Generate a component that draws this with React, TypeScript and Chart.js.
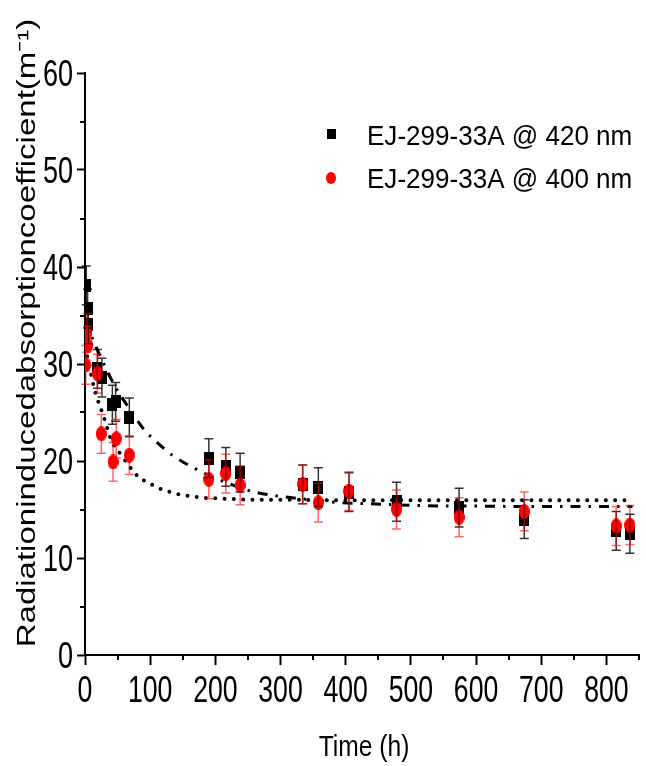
import React, { useEffect, useRef } from 'react';
import { Chart, registerables } from 'chart.js';
Chart.register(...registerables);

// Measured data (time in hours, absorption coefficient m^-1)
const timeBlack = [2, 4, 5, 19, 26, 42, 47, 68, 190, 216, 238, 334, 358, 405, 478, 574, 674, 815, 836];
const valBlack = [38.1, 35.7, 34.1, 29.5, 28.6, 25.8, 26.1, 24.5, 20.3, 19.4, 18.8, 17.6, 17.3, 16.8, 15.8, 15.2, 14.0, 12.8, 12.5];
const errBlack = [2, 2, 2, 2, 2, 2, 2, 2, 2, 2, 2, 2, 2, 2, 2, 2, 2, 2, 2];

const timeRed = [1, 3, 4, 19, 25, 43, 48, 68, 190, 216, 238, 334, 358, 405, 478, 574, 674, 815, 836];
const valRed = [29.9, 33.2, 31.9, 29.0, 22.8, 19.9, 22.3, 20.6, 18.1, 18.7, 17.5, 17.6, 15.7, 16.9, 15.0, 14.2, 14.8, 13.3, 13.4];
const errRed = [2, 2, 2, 2, 2, 2, 2, 2, 2, 2, 2, 2, 2, 2, 2, 2, 2, 2, 2];

// Fit curves
const dashT = [0, 18, 46, 66, 91, 111, 134, 178, 216, 260, 306, 346, 391, 432, 516, 600, 700, 840];
const dashV = [34.5, 31.6, 27.7, 25.6, 23.2, 21.9, 20.6, 18.9, 17.8, 16.8, 16.3, 16.0, 15.7, 15.6, 15.4, 15.35, 15.3, 15.3];

const dotT = [0, 6, 13, 20, 28, 40, 56, 71, 83, 99, 113, 126, 142, 169, 185, 220, 260, 320, 400, 500, 600, 700, 840];
const dotV = [31.7, 30.0, 27.8, 26.2, 24.7, 22.2, 20.6, 19.2, 18.3, 17.7, 17.2, 16.9, 16.6, 16.3, 16.2, 16.1, 16.0, 16.0, 15.95, 15.95, 15.95, 15.95, 15.95];

const seriesLabels = ['EJ-299-33A @ 420 nm', 'EJ-299-33A @ 400 nm'];
const xTitle = 'Time (h)';
const yTitle = 'Radiationinducedabsorptioncoefficient(m\u207B\u00B9)';

const SANS = '"Liberation Sans", Arial, sans-serif';

function makeEllipse(w: number, h: number, color: string) {
  const c = document.createElement('canvas');
  c.width = w; c.height = h;
  const ctx = c.getContext('2d')!;
  ctx.fillStyle = color;
  ctx.beginPath();
  ctx.ellipse(w / 2, h / 2, w / 2, h / 2, 0, 0, Math.PI * 2);
  ctx.fill();
  return c;
}
function makeRect(w: number, h: number, color: string) {
  const c = document.createElement('canvas');
  c.width = w; c.height = h;
  const ctx = c.getContext('2d')!;
  ctx.fillStyle = color;
  ctx.fillRect(0, 0, w, h);
  return c;
}

function scaledText(ctx: CanvasRenderingContext2D, text: string, x: number, y: number, size: number, sx: number, align: CanvasTextAlign) {
  ctx.save();
  ctx.translate(x, y);
  ctx.scale(sx, 1);
  ctx.font = size + 'px ' + SANS;
  ctx.textAlign = align;
  ctx.textBaseline = 'alphabetic';
  ctx.fillStyle = '#000';
  ctx.fillText(text, 0, 0);
  ctx.restore();
}

export default function App() {
  const ref = useRef<HTMLCanvasElement>(null);
  useEffect(() => {
    const canvas = ref.current!;
    const sq = makeRect(10, 13, '#000');
    const el = makeEllipse(11, 15, '#ff0000');
    const sqLeg = makeRect(9, 10, '#000');
    const elLeg = makeEllipse(10, 12, '#ff0000');

    const errorBars = {
      id: 'errorBars',
      afterDatasetsDraw(chart: any) {
        const { ctx, scales } = chart;
        const x = scales.x, y = scales.y;
        const draw = (ts: number[], vs: number[], es: number[], color: string) => {
          ctx.save();
          ctx.strokeStyle = color;
          ctx.lineWidth = 1.5;
          for (let i = 0; i < ts.length; i++) {
            const px = x.getPixelForValue(ts[i]);
            const top = y.getPixelForValue(vs[i] + es[i]);
            const bot = y.getPixelForValue(vs[i] - es[i]);
            ctx.beginPath();
            ctx.moveTo(px, top); ctx.lineTo(px, bot);
            ctx.moveTo(px - 4.5, top); ctx.lineTo(px + 4.5, top);
            ctx.moveTo(px - 4.5, bot); ctx.lineTo(px + 4.5, bot);
            ctx.stroke();
          }
          ctx.restore();
        };
        draw(timeBlack, valBlack, errBlack, 'rgba(0,0,0,0.8)');
        draw(timeRed, valRed, errRed, 'rgba(255,0,0,0.6)');
      },
    };

    const extras = {
      id: 'extras',
      afterDraw(chart: any) {
        const { ctx, scales } = chart;
        const x = scales.x, y = scales.y;
        ctx.save();
        // minor ticks
        ctx.strokeStyle = '#000';
        ctx.lineWidth = 2;
        const x0 = x.left;
        const yb = y.bottom;
        ctx.beginPath();
        for (let v = 5; v < 60; v += 10) {
          const py = Math.round(y.getPixelForValue(v));
          ctx.moveTo(x0, py); ctx.lineTo(x0 - 5, py);
        }
        for (let v = 50; v <= 850; v += 100) {
          const px = Math.round(x.getPixelForValue(v));
          ctx.moveTo(px, yb); ctx.lineTo(px, yb + 5);
        }
        ctx.stroke();
        ctx.restore();

        // tick labels (condensed, as in the original figure)
        x.ticks.forEach((t: any) => {
          scaledText(ctx, String(t.value), x.getPixelForValue(t.value), 702, 37, 0.72, 'center');
        });
        y.ticks.forEach((t: any) => {
          scaledText(ctx, String(t.value), 73, y.getPixelForValue(t.value) + 13, 37, 0.73, 'right');
        });

        // x title
        scaledText(ctx, xTitle, 364, 756, 30, 0.82, 'center');

        // y title (rotated, squashed across)
        ctx.save();
        ctx.fillStyle = '#000';
        ctx.font = '33px ' + SANS;
        ctx.textAlign = 'center';
        ctx.textBaseline = 'alphabetic';
        ctx.translate(35, 333);
        ctx.rotate(-Math.PI / 2);
        ctx.scale(1, 0.78);
        ctx.fillText(yTitle, 0, 0);
        ctx.restore();

        // legend
        ctx.save();
        ctx.drawImage(sqLeg, 331 - 4.5, 134 - 5);
        ctx.drawImage(elLeg, 331 - 5, 178 - 6);
        ctx.restore();
        scaledText(ctx, seriesLabels[0], 367, 145, 28, 0.93, 'left');
        scaledText(ctx, seriesLabels[1], 367, 188, 28, 0.93, 'left');
      },
    };

    const chart = new Chart(canvas, {
      type: 'scatter',
      data: {
        datasets: [
          {
            label: seriesLabels[0],
            data: timeBlack.map((t, i) => ({ x: t, y: valBlack[i] })),
            pointStyle: sq as any,
            pointRadius: 6,
            order: 2,
          },
          {
            label: seriesLabels[1],
            data: timeRed.map((t, i) => ({ x: t, y: valRed[i] })),
            pointStyle: el as any,
            pointRadius: 6,
            order: 1,
          },
          {
            label: 'fit420',
            data: dashT.map((t, i) => ({ x: t, y: dashV[i] })),
            showLine: true,
            pointRadius: 0,
            borderColor: '#000',
            borderWidth: 3,
            borderDash: [10, 8, 2.5, 8],
            cubicInterpolationMode: 'monotone',
            order: 4,
          } as any,
          {
            label: 'fit400',
            data: dotT.map((t, i) => ({ x: t, y: dotV[i] })),
            showLine: true,
            pointRadius: 0,
            borderColor: '#000',
            borderWidth: 4,
            borderCapStyle: 'round',
            borderDash: [0, 9.3],
            cubicInterpolationMode: 'monotone',
            order: 3,
          } as any,
        ],
      },
      options: {
        animation: false,
        responsive: false,
        devicePixelRatio: 1,
        layout: { padding: { top: 73, right: 0, left: 0, bottom: 0 } },
        plugins: { legend: { display: false }, tooltip: { enabled: false } },
        scales: {
          x: {
            type: 'linear',
            min: 0,
            max: 850,
            grid: { drawOnChartArea: false, tickLength: 10, tickWidth: 2, tickColor: '#000' },
            border: { color: '#000', width: 2 },
            ticks: { stepSize: 100, includeBounds: false, display: false },
            afterFit(scale: any) { scale.height = 111; },
          },
          y: {
            type: 'linear',
            min: 0,
            max: 60,
            grid: { drawOnChartArea: false, tickLength: 8, tickWidth: 2, tickColor: '#000' },
            border: { color: '#000', width: 2 },
            ticks: { stepSize: 10, display: false },
            afterFit(scale: any) { scale.width = 85; },
          },
        },
      },
      plugins: [errorBars, extras],
    } as any);
    return () => chart.destroy();
  }, []);
  return (
    <div style={{ position: 'absolute', left: 0, top: 0, width: 646, height: 766, background: '#fff' }}>
      <canvas ref={ref} width={646} height={766} style={{ display: 'block' }} />
    </div>
  );
}
